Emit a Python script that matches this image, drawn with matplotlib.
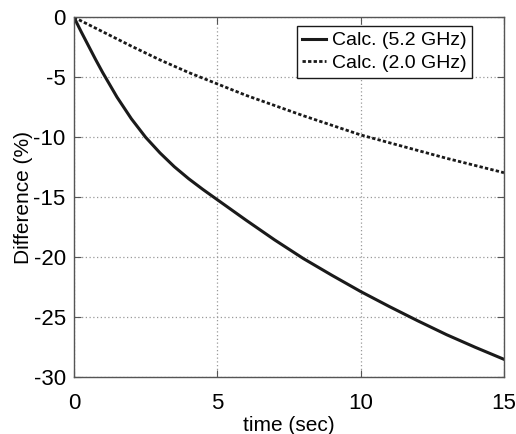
import numpy as np
import matplotlib as mpl
mpl.use("Agg")
import matplotlib.pyplot as plt

plt.rcParams.update({
    "font.family": ["Liberation Sans", "DejaVu Sans"],
    "font.size": 15,
    "axes.unicode_minus": False,
})

# values
t_sec = [0, 0.25, 0.5, 0.75, 1, 1.5, 2, 2.5, 3, 3.5, 4, 4.5, 5, 5.5, 6, 7,
         8, 9, 10, 11, 12, 13, 14, 15]
diff_52ghz = [0, -1.2, -2.35, -3.5, -4.6, -6.65, -8.45, -10.0, -11.3, -12.45,
              -13.45, -14.35, -15.2, -16.05, -16.9, -18.55, -20.1, -21.5,
              -22.85, -24.1, -25.3, -26.45, -27.5, -28.5]
t_sec_2 = [0, 1, 2, 3, 4, 5, 6, 7, 8, 9, 10, 11, 12, 13, 14, 15]
diff_20ghz = [0, -1.2, -2.4, -3.55, -4.6, -5.55, -6.5, -7.35, -8.2, -9.0,
              -9.8, -10.45, -11.1, -11.75, -12.35, -12.95]
labels = ["Calc. (5.2 GHz)", "Calc. (2.0 GHz)"]

fig = plt.figure(figsize=(5.16, 4.34), dpi=100)
ax = fig.add_axes([0.1434, 0.1306, 0.8333, 0.8295])

ax.plot(t_sec, diff_52ghz, color="#1a1a1a", linewidth=2.2, label=labels[0])
ax.plot(t_sec_2, diff_20ghz, color="#1a1a1a", linewidth=2.0,
        linestyle=(0, (1.2, 0.8)), label=labels[1])

ax.set_xlim(0, 15)
ax.set_ylim(-30, 0)
ax.set_xticks([0, 5, 10, 15])
ax.set_yticks([0, -5, -10, -15, -20, -25, -30])
ax.tick_params(direction="in", top=True, right=True, length=5,
               color="#555555", labelsize=16)
ax.tick_params(axis="x", pad=11)
ax.tick_params(axis="y", pad=6)
ax.grid(True, color="#999999", linestyle=(0, (1, 2)), linewidth=0.9)
for s in ax.spines.values():
    s.set_color("#555555")
    s.set_linewidth(1.0)

ax.set_xlabel("time (sec)", fontsize=15, labelpad=2)
ax.set_ylabel("Difference (%)", fontsize=15, labelpad=0)

leg = ax.legend(loc="upper right", bbox_to_anchor=(0.9256, 0.976),
                borderaxespad=0, fontsize=14, fancybox=False,
                framealpha=1, edgecolor="#1a1a1a", handlelength=1.2,
                handletextpad=0.3, borderpad=0.3, labelspacing=0.25)
leg.get_frame().set_linewidth(1.0)

fig.savefig("out.png", dpi=100)
